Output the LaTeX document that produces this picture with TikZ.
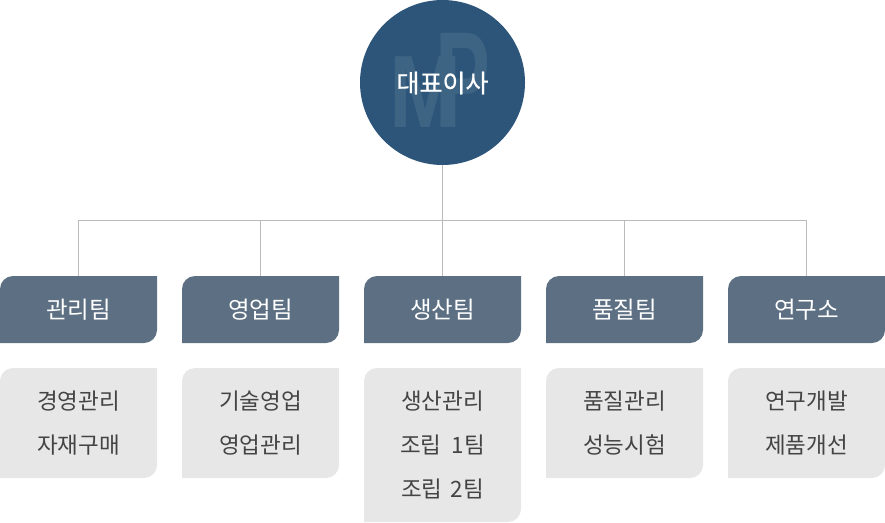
\documentclass[tikz,border=0pt]{standalone}
\usepackage{fontspec}
\newfontfamily\krfont{Noto Sans CJK KR}
\newfontfamily\krheavy[FakeBold=0.6]{Noto Sans CJK KR}
\newfontfamily\markfont{Liberation Sans}
\definecolor{ceoblue}{HTML}{2C5579}
\definecolor{markblue}{HTML}{3E6484}
\definecolor{teamblue}{HTML}{5D7083}
\definecolor{subgray}{HTML}{E7E7E7}
\definecolor{subtext}{HTML}{444444}
\definecolor{linegray}{HTML}{BBBBBB}
\tikzset{
  orgline/.style={linegray,line width=1pt},
  labelbox/.style={inner sep=0pt,minimum width=157pt,align=center},
  teamlabel/.style={labelbox,minimum height=67pt,text=white,
    font=\krfont\fontsize{23.5}{24}\selectfont},
  sublabel/.style={labelbox,text=subtext,font=\krfont\fontsize{22.5}{44}\selectfont},
}
% box with only the top left and bottom right corners rounded
\newcommand{\cutbox}[4]{%
  \fill[#1] (#2,#3+#4) [rounded corners=13pt] -- (#2,#3) [sharp corners] -- (#2+157,#3)
    [rounded corners=13pt] -- (#2+157,#3+#4) [sharp corners] -- cycle;}
\begin{document}
\begin{tikzpicture}[x=1pt,y=-1pt]
  \useasboundingbox (0,0) rectangle (885,522);
  \coordinate (bus) at (442.5,220.5);
  \node[circle,fill=ceoblue,minimum size=165pt,inner sep=0pt] (ceo) at (442.5,82.5) {};
  \node[text=markblue,font=\markfont\bfseries\fontsize{103}{103}\selectfont,xscale=0.84,inner sep=0pt] (markm) at (426,92.5) {M};
  \node[text=markblue,font=\markfont\bfseries\fontsize{137}{137}\selectfont,xscale=0.6,inner sep=0pt] (markp) at (462.5,80.5) {P};
  \node[text=white,font=\krheavy\fontsize{25}{26}\selectfont,inner sep=0pt] (ceotext) at (442.5,83) {대표이사};
  \foreach \id/\xx/\hh/\team/\subs in {
    a/0/110/관리팀/경영관리\\자재구매,
    b/182/110/영업팀/기술영업\\영업관리,
    c/364/154/생산팀/생산관리\\조립 ~1팀\\조립 \kern3pt 2팀,
    d/546/110/품질팀/품질관리\\성능시험,
    e/728/110/연구소/연구개발\\제품개선}{
    \cutbox{teamblue}{\xx}{276}{67}
    \cutbox{subgray}{\xx}{368}{\hh}
    \node[teamlabel] (team\id) at (\xx+78.5,309.5) {\team};
    \node[sublabel,minimum height=\hh pt] (sub\id) at (\xx+78.5,368+\hh/2) {\subs};
    \draw[orgline] (bus) -| (team\id.north);
  }
  \draw[orgline] (ceo.south) -- (bus);
\end{tikzpicture}
\end{document}
